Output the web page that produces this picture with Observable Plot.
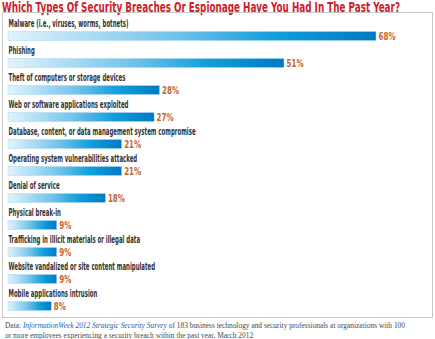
<!DOCTYPE html>
<html>
<head>
<meta charset="utf-8">
<script src="https://cdn.jsdelivr.net/npm/d3@7"></script>
<script src="https://cdn.jsdelivr.net/npm/@observablehq/plot@0.6"></script>
<style>
  html, body { margin: 0; padding: 0; background: #fff; width: 435px; height: 339px; overflow: hidden; }
  #title { position: absolute; left: 2px; top: 0px; font-family: "DejaVu Sans", sans-serif; font-stretch: condensed; font-weight: bold; font-size: 14px; line-height: 14px; color: #cc2229; white-space: nowrap; transform-origin: 0 0; }
  #box { position: absolute; left: 2px; top: 12px; width: 429px; height: 304px; border: 1px solid #c8c8c8; }
  #caption { position: absolute; left: 5px; top: 321px; font-family: "Liberation Serif", "DejaVu Serif", serif; font-size: 8px; line-height: 9.5px; color: #4a4a4a; white-space: nowrap; transform-origin: 0 0; }
  #caption i { color: #1a5fa8; }
</style>
</head>
<body>
<div id="title">Which Types Of Security Breaches Or Espionage Have You Had In The Past Year?</div>
<div id="box"></div>
<div id="caption">Data: <i>InformationWeek 2012 Strategic Security Survey</i> of 183 business technology and security professionals at organizations with 100<br>or more employees experiencing a security breach within the past year, March 2012</div>
<script>
const categories = [
  "Malware (i.e., viruses, worms, botnets)",
  "Phishing",
  "Theft of computers or storage devices",
  "Web or software applications exploited",
  "Database, content, or data management system compromise",
  "Operating system vulnerabilities attacked",
  "Denial of service",
  "Physical break-in",
  "Trafficking in illicit materials or illegal data",
  "Website vandalized or site content manipulated",
  "Mobile applications intrusion"
];
const values = [68, 51, 28, 27, 21, 21, 18, 9, 9, 9, 8];
const valueLabels = ["68%", "51%", "28%", "27%", "21%", "21%", "18%", "9%", "9%", "9%", "8%"];

const data = categories.map((c, i) => ({category: c, value: values[i], label: valueLabels[i]}));

const chart = Plot.plot({
  width: 429,
  height: 304,
  marginTop: 3,
  marginBottom: 3,
  marginLeft: 5,
  marginRight: 56,
  x: {domain: [0, 68], axis: null},
  y: {domain: categories, padding: 0, axis: null},
  style: {background: "transparent", overflow: "visible"},
  marks: [
    Plot.barX(data, {x: "value", y: "category", fill: "url(#barGrad)", stroke: "#a9d6f0", strokeWidth: 0.5, insetTop: 14.5, insetBottom: 3.5}),
    Plot.text(data, {x: 0, y: "category", text: "category", textAnchor: "start", dy: -7, fill: "#333", fontSize: 10, fontWeight: "bold", fontFamily: "'DejaVu Sans', sans-serif", className: "cat-label"}),
    Plot.text(data, {x: "value", y: "category", text: "label", textAnchor: "start", dx: 2, dy: 5.5, fill: "#c4652c", fontSize: 11, fontWeight: "bold", fontFamily: "'DejaVu Sans', sans-serif", className: "val-label"})
  ]
});

const svg = d3.select(chart);
const defs = svg.insert("defs", ":first-child");
const g = defs.append("linearGradient").attr("id", "barGrad").attr("x1", "0").attr("x2", "1").attr("y1", "0").attr("y2", "0");
[[0, "#e2f4fc"], [0.45, "#73c2ea"], [0.72, "#129fdc"], [1, "#0079c2"]].forEach(([o, c]) => g.append("stop").attr("offset", o).attr("stop-color", c));

document.getElementById("box").appendChild(chart);

// condense text horizontally to mimic the condensed typeface
function squeeze(selector, factor) {
  chart.querySelectorAll(selector + " text").forEach(t => {
    const w = t.getComputedTextLength();
    t.setAttribute("textLength", (w * factor).toFixed(2));
    t.setAttribute("lengthAdjust", "spacingAndGlyphs");
  });
}
const catTexts = chart.querySelectorAll(".cat-label text");
const catFactor = 120 / catTexts[0].getComputedTextLength();
squeeze(".cat-label", catFactor);
const valTexts = chart.querySelectorAll(".val-label text");
const valFactor = 17 / valTexts[0].getComputedTextLength();
squeeze(".val-label", valFactor);

// fit title and caption widths
const title = document.getElementById("title");
const tw = title.getBoundingClientRect().width;
title.style.transform = `scaleX(${398 / tw})`;
const cap = document.getElementById("caption");
const cw = cap.getBoundingClientRect().width;
cap.style.transform = `scaleX(${400 / cw})`;
</script>
</body>
</html>
